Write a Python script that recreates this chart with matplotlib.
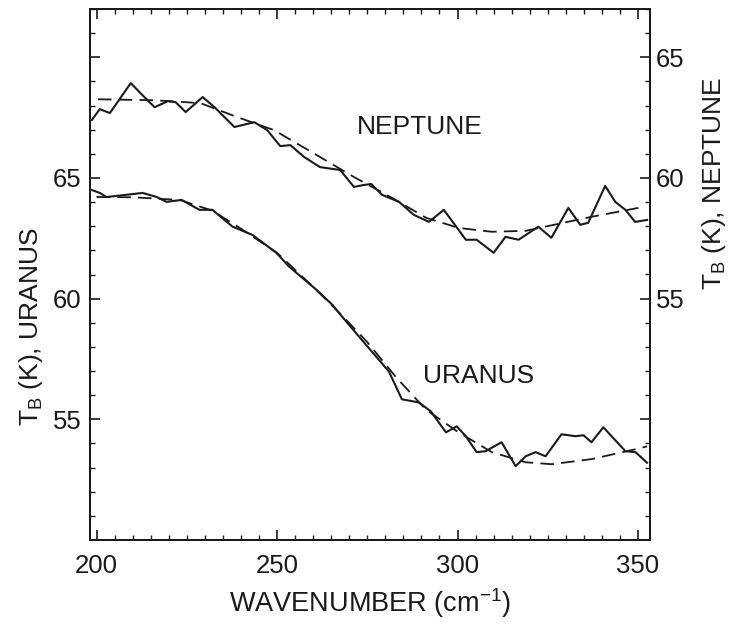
import matplotlib
matplotlib.use('Agg')
import matplotlib.pyplot as plt
from matplotlib.ticker import MultipleLocator, FuncFormatter

plt.rcParams['font.family'] = ['Liberation Sans', 'DejaVu Sans']
plt.rcParams['mathtext.fontset'] = 'custom'
plt.rcParams['mathtext.rm'] = 'Liberation Sans'
plt.rcParams['mathtext.it'] = 'Liberation Sans'

# Uranus spectrum (left axis, K)
uranus_x = [198.7, 200.9, 202.8, 212.8, 216.7, 219.4, 223.6, 228.5, 232.1, 237.7,
            243.2, 249.8, 253.4, 260.9, 265.3, 268.0, 272.7, 281.0, 284.6, 289.3,
            292.6, 296.8, 299.8, 302.3, 305.3, 307.8, 312.2, 316.1, 318.9, 321.6,
            324.4, 328.8, 332.7, 334.9, 337.1, 340.4, 346.5, 349.3, 352.5]
uranus_tb = [64.50, 64.38, 64.21, 64.38, 64.21, 64.01, 64.09, 63.68, 63.68, 62.98,
             62.64, 61.90, 61.32, 60.37, 59.75, 59.26, 58.43, 56.98, 55.83, 55.70,
             55.33, 54.46, 54.71, 54.30, 53.64, 53.68, 54.05, 53.06, 53.47, 53.64,
             53.47, 54.38, 54.30, 54.34, 54.05, 54.67, 53.68, 53.64, 53.20]

# Uranus model (dashed)
uranus_model_x = [200.0, 210.0, 223.0, 232.0, 240.0, 250.0, 261.0, 268.0, 275.0,
                  283.0, 291.2, 300.3, 309.5, 318.9, 326.1, 337.1, 349.3, 352.5]
uranus_model_tb = [64.21, 64.20, 64.09, 63.65, 62.90, 61.90, 60.35, 59.30, 58.20,
                   56.74, 55.41, 54.46, 53.64, 53.22, 53.14, 53.35, 53.76, 53.88]

# Neptune spectrum (right axis, K)
neptune_x = [198.7, 200.9, 203.7, 209.5, 212.2, 216.1, 219.7, 221.9, 224.7, 229.4,
             232.7, 238.2, 243.7, 247.3, 250.9, 253.7, 257.5, 261.9, 267.5, 271.3,
             274.1, 276.1, 279.1, 283.8, 287.9, 292.1, 296.2, 300.3, 302.3, 305.3,
             310.0, 313.3, 316.9, 322.4, 326.0, 330.7, 334.0, 336.2, 340.9, 343.7,
             346.5, 349.2, 352.5]
neptune_tb = [62.40, 62.85, 62.69, 63.93, 63.51, 62.93, 63.18, 63.14, 62.73, 63.35,
              62.93, 62.11, 62.31, 61.98, 61.32, 61.36, 60.87, 60.45, 60.33, 59.63,
              59.71, 59.75, 59.30, 59.01, 58.47, 58.18, 58.68, 57.85, 57.44, 57.44,
              56.90, 57.56, 57.44, 57.98, 57.52, 58.76, 58.06, 58.14, 59.67, 59.01,
              58.68, 58.18, 58.26]

# Neptune model (dashed)
neptune_model_x = [200.4, 216.1, 228.8, 239.0, 249.2, 261.9, 271.3, 281.9, 291.3,
                   300.3, 309.5, 318.9, 328.0, 337.1, 350.1]
neptune_model_tb = [63.26, 63.22, 63.10, 62.52, 61.98, 60.87, 60.04, 59.17, 58.35,
                    57.93, 57.77, 57.81, 58.10, 58.39, 58.76]

ink = '#1a1a1a'
fs_tick = 18.5
fs_lab = 19.5
fs_txt = 19

fig = plt.figure(figsize=(7.3, 6.25), dpi=100)
ax = fig.add_axes([0.1233, 0.136, 0.767, 0.8496])
ax2 = ax.twinx()

ax.plot(uranus_x, uranus_tb, color=ink, lw=1.5, solid_joinstyle='round')
ax.plot(uranus_model_x, uranus_model_tb, color=ink, lw=1.3, dashes=(7.5, 4))
ax2.plot(neptune_x, neptune_tb, color=ink, lw=1.5, solid_joinstyle='round')
ax2.plot(neptune_model_x, neptune_model_tb, color=ink, lw=1.3, dashes=(7.5, 4))

ax.set_xlim(198.2, 353.3)
ax.set_ylim(50, 72)
ax2.set_ylim(45, 67)

ax.xaxis.set_major_locator(MultipleLocator(50))
ax.xaxis.set_minor_locator(MultipleLocator(5))
ax.yaxis.set_major_locator(MultipleLocator(5))
ax.yaxis.set_minor_locator(MultipleLocator(1))
ax2.yaxis.set_major_locator(MultipleLocator(5))
ax2.yaxis.set_minor_locator(MultipleLocator(1))

shown = {55, 60, 65}
fmt = FuncFormatter(lambda v, p: '%d' % v if round(v) in shown else '')
ax.yaxis.set_major_formatter(fmt)
ax2.yaxis.set_major_formatter(fmt)

ax.tick_params(axis='x', which='both', direction='in', top=True,
               labelsize=fs_tick, pad=10, colors=ink)
ax.tick_params(axis='y', which='both', direction='in', labelsize=fs_tick,
               pad=6, colors=ink)
ax2.tick_params(axis='y', which='both', direction='in', labelsize=fs_tick,
                pad=4, colors=ink)
for a in (ax, ax2):
    a.tick_params(which='major', length=7, width=1.2)
    a.tick_params(which='minor', length=3.5, width=1.0)
    for s in a.spines.values():
        s.set_linewidth(1.4)
        s.set_color(ink)

ax.set_xlabel('WAVENUMBER (cm$^{\\mathrm{-1}}$)', fontsize=fs_lab, color=ink,
              labelpad=6)
ax.set_ylabel('T$_\\mathrm{B}$ (K), URANUS', fontsize=fs_txt, color=ink)
ax.yaxis.set_label_coords(-0.080, 0.401)
ax2.set_ylabel('T$_\\mathrm{B}$ (K), NEPTUNE', fontsize=fs_txt, color=ink,
               rotation=90)
ax2.yaxis.set_label_coords(1.089, 0.672)

ax.text(289.6, 67.1, 'NEPTUNE', fontsize=fs_txt, color=ink,
        ha='center', va='center')
ax.text(305.9, 56.78, 'URANUS', fontsize=fs_txt, color=ink,
        ha='center', va='center')

fig.savefig('out.png', dpi=100)
